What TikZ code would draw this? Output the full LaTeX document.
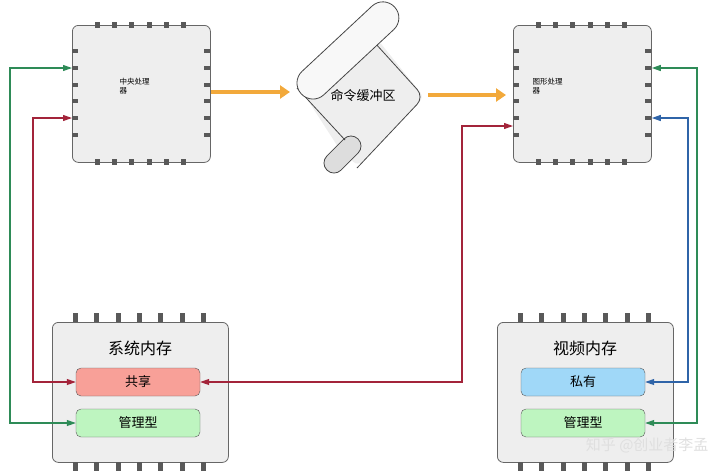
\documentclass[tikz,border=0pt]{standalone}
\usepackage{fontspec}
\setmainfont{Noto Sans CJK SC}
\usetikzlibrary{arrows.meta}
\definecolor{gr}{HTML}{2E8B57}
\definecolor{rd}{HTML}{A3243A}
\definecolor{bl}{HTML}{2F64A8}
\definecolor{org}{HTML}{F2A93B}
\definecolor{chipf}{HTML}{EEEEEE}
\definecolor{rollf}{HTML}{F8F8F8}
\definecolor{rolld}{HTML}{DDDDDD}
\begin{document}
\begin{tikzpicture}[x=1pt,y=-1pt,
  chip/.style={draw=gray!80!black,fill=chipf,rounded corners=6pt,line width=0.8pt},
  sub/.style={draw=gray!70!black,rounded corners=5pt,minimum width=124pt,minimum height=28pt,font=\fontsize{13}{15}\selectfont},
  ends/.style={{Triangle[length=9pt,width=6pt]}-{Triangle[length=9pt,width=6pt]}},
  conn/.style={line width=1.1pt,ends},
  big/.style={line width=4.5pt,org,-{Triangle[length=10pt,width=13pt]}},
  scr/.style={draw=gray!55!black,line width=0.8pt}]
\useasboundingbox (0,0) rectangle (720,475);
% CPU / GPU chips
\node[chip,minimum width=138pt,minimum height=137pt,anchor=north west] (cpu) at (72,25) {};
\node[chip,minimum width=138pt,minimum height=137pt,anchor=north west] (gpu) at (513,25) {};
\foreach \ox in {0,441}{
 \foreach \i in {0,...,5}{
  \fill[gray!70!black] (\ox+95+\i*17.2,22) rectangle ++(5,6);
  \fill[gray!70!black] (\ox+95+\i*17.2,159) rectangle ++(5,6);
  \fill[gray!70!black] (\ox+72,49+\i*16.8) rectangle ++(6,4);
  \fill[gray!70!black] (\ox+204,49+\i*16.8) rectangle ++(6,4);
 }}
\node[font=\fontsize{7.5}{8.5}\selectfont,align=left,anchor=west] (cput) at (116,86) {中央处理\\器};
\node[font=\fontsize{7.5}{8.5}\selectfont,align=left,anchor=west] (gput) at (529,86) {图形处理\\器};
% scroll
\fill[chipf,rounded corners=6pt] (300,88) -- (378,40) -- (424,97) -- (358,166) -- (340,150) -- cycle;
\begin{scope}[shift={(334,163)},rotate=45]
 \draw[scr,fill=rolld,rounded corners=9.9pt] (-10,-10) rectangle (34,10);
\end{scope}
\draw[scr] (297,88) -- (345,140);
\draw[scr,rounded corners=10pt] (357,168) -- (424,97) -- (375,43);
\begin{scope}[shift={(313,83)},rotate=43]
 \draw[scr,fill=rollf,rounded corners=15.9pt] (-16,-16) rectangle (111.5,16);
\end{scope}
\node[font=\fontsize{13}{15}\selectfont] (buf) at (363,96) {命令缓冲区};
% big arrows
\draw[big] (211,92) -- (290,92);
\draw[big] (428,95) -- (506,95);
% memory chips
\node[chip,minimum width=176pt,minimum height=140pt,anchor=north west] (sys) at (52,322) {};
\node[chip,minimum width=176pt,minimum height=140pt,anchor=north west] (vid) at (497,322) {};
\foreach \ox in {0,445}{
 \foreach \i in {0,...,6}{
  \fill[gray!70!black] (\ox+73+\i*21.3,313) rectangle ++(5,9);
  \fill[gray!70!black] (\ox+73+\i*21.3,462) rectangle ++(5,9);
 }}
\node[font=\fontsize{16}{18}\selectfont] (syst) at (140,348) {系统内存};
\node[font=\fontsize{16}{18}\selectfont] (vidt) at (585,348) {视频内存};
\node[sub,fill={rgb,255:red,248;green,160;blue,152}] (shr) at (138,382) {共享};
\node[sub,fill={rgb,255:red,190;green,245;blue,192}] (m1) at (138,423) {管理型};
\node[sub,fill={rgb,255:red,160;green,216;blue,248}] (prv) at (583,382) {私有};
\node[sub,fill={rgb,255:red,190;green,245;blue,192}] (m2) at (583,423) {管理型};
% connectors
\coordinate (gA) at (10,68); \coordinate (gB) at (10,423);
\coordinate (rA) at (33,118); \coordinate (rB) at (33,382);
\coordinate (mA) at (462,382); \coordinate (mB) at (462,126);
\coordinate (g2A) at (697,68); \coordinate (g2B) at (697,423);
\coordinate (bA) at (688,118); \coordinate (bB) at (688,382);
\draw[conn,gr] (m1.west) -- (gB) -- (gA) -- (cpu.west |- gA);
\draw[conn,rd] (shr.west) -- (rB) -- (rA) -- (cpu.west |- rA);
\draw[conn,rd] (shr.east) -- (mA) -- (mB) -- (gpu.west |- mB);
\draw[conn,gr] (m2.east) -- (g2B) -- (g2A) -- (gpu.east |- g2A);
\draw[conn,bl] (prv.east) -- (bB) -- (bA) -- (gpu.east |- bA);
\node[font=\fontsize{15}{17}\selectfont,text=gray!25,anchor=east] (wm) at (712,445) {知乎 @创业者李孟};
\end{tikzpicture}
\end{document}
